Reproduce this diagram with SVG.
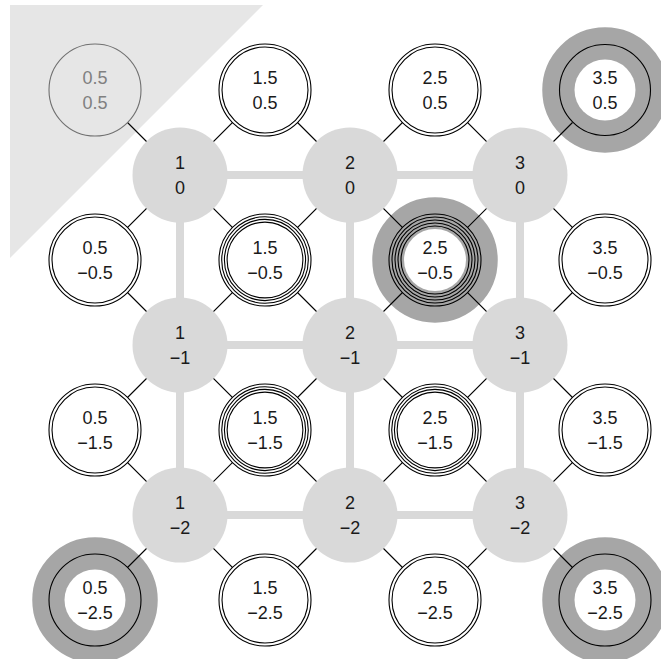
<svg xmlns="http://www.w3.org/2000/svg" width="661" height="659" viewBox="0 0 661 659">
<style>
.bg{fill:#ffffff}
.tri{fill:#e6e6e6}
.grid line{stroke:#d9d9d9;stroke-width:8}
.conn line{stroke:#000;stroke-width:1.1}
.big{fill:#d9d9d9}
.ring{fill:none;stroke:#a6a6a6;stroke-width:32.5}
.wf{fill:#fff}
.gf{fill:#a6a6a6}
.c{fill:none;stroke:#000;stroke-width:1.1}
.t{font-family:"Liberation Sans","DejaVu Sans",sans-serif;font-size:18px;fill:#1a1a1a;text-anchor:middle}
.faint .t{fill:#808080}
</style>
<rect class="bg" x="0" y="0" width="661" height="659"/>
<polygon class="tri" points="10,5 263,5 10,258"/>
<g id="grid" class="grid">
<line x1="180" y1="175" x2="350" y2="175"/>
<line x1="350" y1="175" x2="520" y2="175"/>
<line x1="180" y1="345" x2="350" y2="345"/>
<line x1="350" y1="345" x2="520" y2="345"/>
<line x1="180" y1="515" x2="350" y2="515"/>
<line x1="350" y1="515" x2="520" y2="515"/>
<line x1="180" y1="175" x2="180" y2="345"/>
<line x1="180" y1="345" x2="180" y2="515"/>
<line x1="350" y1="175" x2="350" y2="345"/>
<line x1="350" y1="345" x2="350" y2="515"/>
<line x1="520" y1="175" x2="520" y2="345"/>
<line x1="520" y1="345" x2="520" y2="515"/>
</g>
<g id="rings">
<circle class="ring" cx="605" cy="90" r="46.5"/>
<circle class="ring" cx="435" cy="260" r="46.5"/>
<circle class="ring" cx="95" cy="600" r="46.5"/>
<circle class="ring" cx="605" cy="600" r="46.5"/>
</g>
<g id="connectors" class="conn">
<line x1="180" y1="175" x2="95" y2="90"/><line x1="180" y1="175" x2="265" y2="90"/><line x1="180" y1="175" x2="95" y2="260"/><line x1="180" y1="175" x2="265" y2="260"/>
<line x1="350" y1="175" x2="265" y2="90"/><line x1="350" y1="175" x2="435" y2="90"/><line x1="350" y1="175" x2="265" y2="260"/><line x1="350" y1="175" x2="435" y2="260"/>
<line x1="520" y1="175" x2="435" y2="90"/><line x1="520" y1="175" x2="605" y2="90"/><line x1="520" y1="175" x2="435" y2="260"/><line x1="520" y1="175" x2="605" y2="260"/>
<line x1="180" y1="345" x2="95" y2="260"/><line x1="180" y1="345" x2="265" y2="260"/><line x1="180" y1="345" x2="95" y2="430"/><line x1="180" y1="345" x2="265" y2="430"/>
<line x1="350" y1="345" x2="265" y2="260"/><line x1="350" y1="345" x2="435" y2="260"/><line x1="350" y1="345" x2="265" y2="430"/><line x1="350" y1="345" x2="435" y2="430"/>
<line x1="520" y1="345" x2="435" y2="260"/><line x1="520" y1="345" x2="605" y2="260"/><line x1="520" y1="345" x2="435" y2="430"/><line x1="520" y1="345" x2="605" y2="430"/>
<line x1="180" y1="515" x2="95" y2="430"/><line x1="180" y1="515" x2="265" y2="430"/><line x1="180" y1="515" x2="95" y2="600"/><line x1="180" y1="515" x2="265" y2="600"/>
<line x1="350" y1="515" x2="265" y2="430"/><line x1="350" y1="515" x2="435" y2="430"/><line x1="350" y1="515" x2="265" y2="600"/><line x1="350" y1="515" x2="435" y2="600"/>
<line x1="520" y1="515" x2="435" y2="430"/><line x1="520" y1="515" x2="605" y2="430"/><line x1="520" y1="515" x2="435" y2="600"/><line x1="520" y1="515" x2="605" y2="600"/>
</g>
<g id="n1_0"><circle class="big" cx="180" cy="175" r="47.5"/><text class="t" x="180" y="169">1</text><text class="t" x="180" y="194">0</text></g>
<g id="n2_0"><circle class="big" cx="350" cy="175" r="47.5"/><text class="t" x="350" y="169">2</text><text class="t" x="350" y="194">0</text></g>
<g id="n3_0"><circle class="big" cx="520" cy="175" r="47.5"/><text class="t" x="520" y="169">3</text><text class="t" x="520" y="194">0</text></g>
<g id="n1_m1"><circle class="big" cx="180" cy="345" r="47.5"/><text class="t" x="180" y="339">1</text><text class="t" x="180" y="364">−1</text></g>
<g id="n2_m1"><circle class="big" cx="350" cy="345" r="47.5"/><text class="t" x="350" y="339">2</text><text class="t" x="350" y="364">−1</text></g>
<g id="n3_m1"><circle class="big" cx="520" cy="345" r="47.5"/><text class="t" x="520" y="339">3</text><text class="t" x="520" y="364">−1</text></g>
<g id="n1_m2"><circle class="big" cx="180" cy="515" r="47.5"/><text class="t" x="180" y="509">1</text><text class="t" x="180" y="534">−2</text></g>
<g id="n2_m2"><circle class="big" cx="350" cy="515" r="47.5"/><text class="t" x="350" y="509">2</text><text class="t" x="350" y="534">−2</text></g>
<g id="n3_m2"><circle class="big" cx="520" cy="515" r="47.5"/><text class="t" x="520" y="509">3</text><text class="t" x="520" y="534">−2</text></g>

<g id="s05_05" class="faint"><circle cx="95" cy="90" r="46" fill="#e6e6e6" stroke="#707070" stroke-width="1.1"/><text class="t" x="95" y="84">0.5</text><text class="t" x="95" y="109">0.5</text></g>
<g id="s15_05"><circle class="wf" cx="265" cy="90" r="46"/><circle class="c" cx="265" cy="90" r="46"/><circle class="c" cx="265" cy="90" r="43"/><text class="t" x="265" y="84">1.5</text><text class="t" x="265" y="109">0.5</text></g>
<g id="s25_05"><circle class="wf" cx="435" cy="90" r="46"/><circle class="c" cx="435" cy="90" r="46"/><circle class="c" cx="435" cy="90" r="43"/><text class="t" x="435" y="84">2.5</text><text class="t" x="435" y="109">0.5</text></g>
<g id="s35_05"><circle class="gf" cx="605" cy="90" r="46"/><circle class="wf" cx="605" cy="90" r="30.5"/><circle class="c" cx="605" cy="90" r="45.5"/><text class="t" x="605" y="84">3.5</text><text class="t" x="605" y="109">0.5</text></g>

<g id="s05_m05"><circle class="wf" cx="95" cy="260" r="46"/><circle class="c" cx="95" cy="260" r="46"/><circle class="c" cx="95" cy="260" r="43"/><text class="t" x="95" y="254">0.5</text><text class="t" x="95" y="279">−0.5</text></g>
<g id="s15_m05"><circle class="wf" cx="265" cy="260" r="46"/><circle class="c" cx="265" cy="260" r="46"/><circle class="c" cx="265" cy="260" r="43.3"/><circle class="c" cx="265" cy="260" r="40.6"/><circle class="c" cx="265" cy="260" r="37.9"/><text class="t" x="265" y="254">1.5</text><text class="t" x="265" y="279">−0.5</text></g>
<g id="s25_m05"><circle class="gf" cx="435" cy="260" r="46"/><circle class="wf" cx="435" cy="260" r="31"/><circle class="c" cx="435" cy="260" r="46"/><circle class="c" cx="435" cy="260" r="43"/><circle class="c" cx="435" cy="260" r="40"/><circle class="c" cx="435" cy="260" r="37"/><circle class="c" cx="435" cy="260" r="34"/><text class="t" x="435" y="254">2.5</text><text class="t" x="435" y="279">−0.5</text></g>
<g id="s35_m05"><circle class="wf" cx="605" cy="260" r="46"/><circle class="c" cx="605" cy="260" r="46"/><circle class="c" cx="605" cy="260" r="43"/><text class="t" x="605" y="254">3.5</text><text class="t" x="605" y="279">−0.5</text></g>

<g id="s05_m15"><circle class="wf" cx="95" cy="430" r="46"/><circle class="c" cx="95" cy="430" r="46"/><circle class="c" cx="95" cy="430" r="43"/><text class="t" x="95" y="424">0.5</text><text class="t" x="95" y="449">−1.5</text></g>
<g id="s15_m15"><circle class="wf" cx="265" cy="430" r="46"/><circle class="c" cx="265" cy="430" r="46"/><circle class="c" cx="265" cy="430" r="43.3"/><circle class="c" cx="265" cy="430" r="40.6"/><circle class="c" cx="265" cy="430" r="37.9"/><text class="t" x="265" y="424">1.5</text><text class="t" x="265" y="449">−1.5</text></g>
<g id="s25_m15"><circle class="wf" cx="435" cy="430" r="46"/><circle class="c" cx="435" cy="430" r="46"/><circle class="c" cx="435" cy="430" r="43.3"/><circle class="c" cx="435" cy="430" r="40.6"/><circle class="c" cx="435" cy="430" r="37.9"/><text class="t" x="435" y="424">2.5</text><text class="t" x="435" y="449">−1.5</text></g>
<g id="s35_m15"><circle class="wf" cx="605" cy="430" r="46"/><circle class="c" cx="605" cy="430" r="46"/><circle class="c" cx="605" cy="430" r="43"/><text class="t" x="605" y="424">3.5</text><text class="t" x="605" y="449">−1.5</text></g>

<g id="s05_m25"><circle class="gf" cx="95" cy="600" r="46"/><circle class="wf" cx="95" cy="600" r="30.5"/><circle class="c" cx="95" cy="600" r="46"/><text class="t" x="95" y="594">0.5</text><text class="t" x="95" y="619">−2.5</text></g>
<g id="s15_m25"><circle class="wf" cx="265" cy="600" r="46"/><circle class="c" cx="265" cy="600" r="46"/><circle class="c" cx="265" cy="600" r="43"/><text class="t" x="265" y="594">1.5</text><text class="t" x="265" y="619">−2.5</text></g>
<g id="s25_m25"><circle class="wf" cx="435" cy="600" r="46"/><circle class="c" cx="435" cy="600" r="46"/><circle class="c" cx="435" cy="600" r="43"/><text class="t" x="435" y="594">2.5</text><text class="t" x="435" y="619">−2.5</text></g>
<g id="s35_m25"><circle class="gf" cx="605" cy="600" r="46"/><circle class="wf" cx="605" cy="600" r="30.5"/><circle class="c" cx="605" cy="600" r="46"/><text class="t" x="605" y="594">3.5</text><text class="t" x="605" y="619">−2.5</text></g>
</svg>
